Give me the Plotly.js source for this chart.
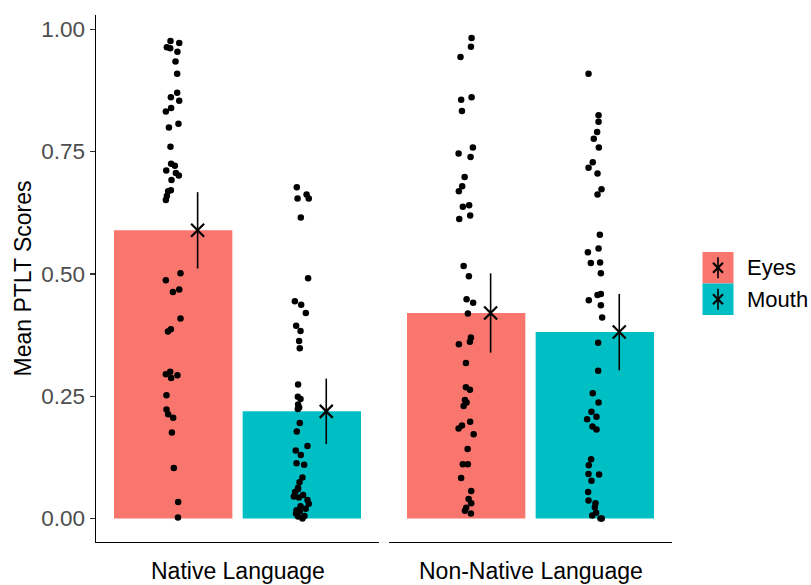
<!DOCTYPE html>
<html>
<head>
<meta charset="utf-8">
<script src="https://cdn.plot.ly/plotly-3.0.1.min.js"></script>
<style>html,body{margin:0;padding:0;background:#fff;}#chart{width:811px;height:585px;}</style>
</head>
<body>
<div id="chart"></div>
<script>
// ---------------- data ----------------
const conditions = ['Eyes', 'Mouth'];
const languages = ['Native Language', 'Non-Native Language'];

const meanNative = [0.589, 0.219];
const seNative = [0.078, 0.067];
const meanNonNative = [0.420, 0.381];
const seNonNative = [0.081, 0.078];

const nativeEyes = [0.976,0.972,0.963,0.961,0.954,0.934,0.909,0.870,0.861,0.854,0.839,0.832,0.807,0.799,0.760,0.725,0.721,0.711,0.706,0.701,0.692,0.671,0.669,0.659,0.651,0.501,0.487,0.468,0.463,0.409,0.387,0.382,0.300,0.295,0.293,0.287,0.252,0.223,0.213,0.206,0.176,0.103,0.034,0.002];
const nativeEyesJitter = [-0.021,0.047,-0.049,-0.023,0.033,0.018,0.031,0.031,-0.018,0.047,-0.016,-0.057,0.041,-0.033,-0.021,-0.016,0.013,-0.054,0.021,0.044,-0.013,-0.018,-0.039,-0.049,-0.057,0.057,-0.057,0.047,-0.002,0.057,-0.018,-0.041,-0.023,-0.057,0.033,-0.016,-0.052,-0.052,-0.039,0.000,-0.010,0.005,0.039,0.037];

const nativeMouth = [0.677,0.654,0.662,0.654,0.615,0.491,0.444,0.437,0.420,0.394,0.383,0.363,0.348,0.274,0.249,0.244,0.233,0.227,0.224,0.195,0.178,0.148,0.139,0.130,0.113,0.110,0.084,0.074,0.063,0.054,0.045,0.043,0.038,0.030,0.017,0.015,0.004,0.000,0.005,0.010,0.020,0.025,0.048,0.060];
const nativeMouthJitter = [-0.039,-0.033,0.037,0.054,-0.008,0.049,-0.054,-0.005,0.031,-0.044,-0.010,-0.021,-0.016,-0.029,-0.031,-0.010,-0.029,-0.021,-0.031,-0.016,-0.039,0.044,-0.047,-0.008,-0.041,0.018,0.005,-0.018,-0.029,-0.052,-0.062,-0.023,0.044,0.054,-0.041,-0.016,-0.029,0.005,0.020,-0.045,0.030,-0.010,0.010,-0.030];

const nonNativeEyes = [0.982,0.964,0.943,0.861,0.856,0.833,0.758,0.746,0.739,0.698,0.679,0.669,0.640,0.637,0.619,0.612,0.516,0.495,0.448,0.441,0.419,0.370,0.361,0.356,0.318,0.268,0.263,0.242,0.237,0.230,0.198,0.190,0.184,0.172,0.142,0.111,0.111,0.083,0.056,0.040,0.031,0.016,0.010,0.022];
const nonNativeEyesJitter = [0.042,0.037,-0.044,0.042,-0.039,-0.033,0.052,-0.059,0.034,-0.012,-0.031,-0.057,0.023,-0.026,0.031,-0.054,-0.020,0.021,0.003,0.054,0.013,0.037,0.029,-0.057,-0.002,-0.002,0.029,-0.010,0.003,-0.020,0.031,-0.033,-0.059,0.058,0.011,-0.026,0.013,-0.039,0.039,0.019,0.039,-0.010,0.037,0.000];

const nonNativeMouth = [0.909,0.824,0.811,0.790,0.776,0.758,0.728,0.717,0.705,0.673,0.662,0.580,0.552,0.544,0.523,0.522,0.501,0.459,0.457,0.446,0.436,0.411,0.359,0.302,0.256,0.237,0.218,0.208,0.203,0.188,0.182,0.121,0.109,0.091,0.090,0.077,0.054,0.037,0.031,0.023,0.000,0.000,0.006,0.012];
const nonNativeMouthJitter = [-0.049,0.029,0.029,0.018,-0.008,0.031,-0.016,-0.049,0.021,0.052,0.021,0.039,0.029,-0.054,0.041,-0.031,0.047,0.047,0.021,-0.047,0.047,0.057,0.026,0.026,-0.016,0.029,-0.026,0.013,-0.060,-0.018,0.013,-0.029,-0.047,-0.049,0.033,-0.026,-0.052,-0.049,0.005,0.000,0.044,0.054,-0.020,0.010];

// ---------------- styles ----------------
const colors = ['#F8766D', '#00BFC4'];
const FONT = 'Liberation Sans, Arial, Helvetica, sans-serif';
const meanOffset = 0.19;
const barWidth = 0.92;

const panels = [
  {xa: 'x', ya: 'y', means: meanNative, se: seNative, pts: [nativeEyes, nativeMouth], jit: [nativeEyesJitter, nativeMouthJitter]},
  {xa: 'x2', ya: 'y2', means: meanNonNative, se: seNonNative, pts: [nonNativeEyes, nonNativeMouth], jit: [nonNativeEyesJitter, nonNativeMouthJitter]}
];

const traces = [];
panels.forEach((p, pi) => {
  traces.push({
    type: 'bar', x: conditions.map((c, i) => i), y: p.means, width: barWidth,
    marker: {color: colors, line: {width: 0}}, xaxis: p.xa, yaxis: p.ya,
    showlegend: false, hoverinfo: 'skip'
  });
});
panels.forEach((p, pi) => {
  p.pts.forEach((vals, ci) => {
    traces.push({
      type: 'scatter', mode: 'markers',
      x: vals.map((v, k) => ci + p.jit[ci][k]), y: vals,
      marker: {color: '#000', size: 6.5, line: {width: 0}},
      xaxis: p.xa, yaxis: p.ya, showlegend: false, hoverinfo: 'skip'
    });
  });
});
panels.forEach((p, pi) => {
  traces.push({
    type: 'scatter', mode: 'markers',
    x: conditions.map((c, i) => i + meanOffset), y: p.means,
    error_y: {type: 'data', array: p.se, visible: true, width: 0, thickness: 1.6, color: '#000'},
    marker: {symbol: 'x-thin', size: 13, color: '#000', line: {width: 2.2, color: '#000'}},
    xaxis: p.xa, yaxis: p.ya, showlegend: false, hoverinfo: 'skip'
  });
});

// geometry helpers (pixel -> paper)
const L = 96, R = 139, T = 15, B = 43, W = 811, H = 585;
const pw = W - L - R, ph = H - T - B;
const px = v => (v - L) / pw;
const py = v => (H - B - v) / ph;

const xCommon = {
  range: [-0.6, 1.6], showline: true, linecolor: '#000', linewidth: 1.4,
  showticklabels: false, ticks: '', showgrid: false, zeroline: false, fixedrange: true
};
const yRange = [-0.048, 1.029];

const shapes = [];
const annotations = [];
// legend keys
const keyTop = [252, 283.5];
conditions.forEach((c, i) => {
  const y0 = keyTop[i], y1 = y0 + 31.5, xc = 718, yc = (y0 + y1) / 2;
  shapes.push({type: 'rect', xref: 'paper', yref: 'paper', x0: px(702.5), x1: px(733.5), y0: py(y1), y1: py(y0), fillcolor: colors[i], line: {width: 0}});
  shapes.push({type: 'line', xref: 'paper', yref: 'paper', x0: px(xc), x1: px(xc), y0: py(yc + 10.5), y1: py(yc - 10.5), line: {color: '#000', width: 1.6}});
  shapes.push({type: 'line', xref: 'paper', yref: 'paper', x0: px(xc - 5), x1: px(xc + 5), y0: py(yc + 5), y1: py(yc - 5), line: {color: '#000', width: 2.2}});
  shapes.push({type: 'line', xref: 'paper', yref: 'paper', x0: px(xc - 5), x1: px(xc + 5), y0: py(yc - 5), y1: py(yc + 5), line: {color: '#000', width: 2.2}});
  annotations.push({xref: 'paper', yref: 'paper', x: px(745), y: py(yc), xanchor: 'left', yanchor: 'middle', showarrow: false, text: c, font: {family: FONT, size: 22, color: '#000'}});
});
// facet labels
annotations.push({xref: 'paper', yref: 'paper', x: px(237.5), y: py(571), xanchor: 'center', yanchor: 'middle', showarrow: false, text: languages[0], font: {family: FONT, size: 23, color: '#000'}});
annotations.push({xref: 'paper', yref: 'paper', x: px(530.5), y: py(571), xanchor: 'center', yanchor: 'middle', showarrow: false, text: languages[1], font: {family: FONT, size: 23, color: '#000'}});
// y title
annotations.push({xref: 'paper', yref: 'paper', x: px(22), y: 0.5, xanchor: 'center', yanchor: 'middle', textangle: -90, showarrow: false, text: 'Mean PTLT Scores', font: {family: FONT, size: 23, color: '#000'}});

const layout = {
  width: W, height: H,
  margin: {l: L, r: R, t: T, b: B, pad: 0},
  paper_bgcolor: '#fff', plot_bgcolor: 'rgba(0,0,0,0)',
  showlegend: false, barmode: 'overlay',
  font: {family: FONT},
  xaxis: Object.assign({domain: [0, 283 / pw], anchor: 'y'}, xCommon),
  xaxis2: Object.assign({domain: [293 / pw, 1], anchor: 'y2'}, xCommon),
  yaxis: {
    range: yRange, anchor: 'x', showline: true, linecolor: '#000', linewidth: 1.4,
    ticks: 'outside', ticklen: 5, tickwidth: 1.3, tickcolor: '#333',
    tickvals: [0, 0.25, 0.5, 0.75, 1], ticktext: ['0.00', '0.25', '0.50', '0.75', '1.00'],
    tickfont: {family: FONT, size: 22.5, color: '#4D4D4D'},
    showgrid: false, zeroline: false, fixedrange: true
  },
  yaxis2: {
    range: yRange, anchor: 'x2', showline: false, showticklabels: false, ticks: '',
    showgrid: false, zeroline: false, fixedrange: true
  },
  shapes: shapes, annotations: annotations
};

Plotly.newPlot('chart', traces, layout, {staticPlot: true, displayModeBar: false});
</script>
</body>
</html>
